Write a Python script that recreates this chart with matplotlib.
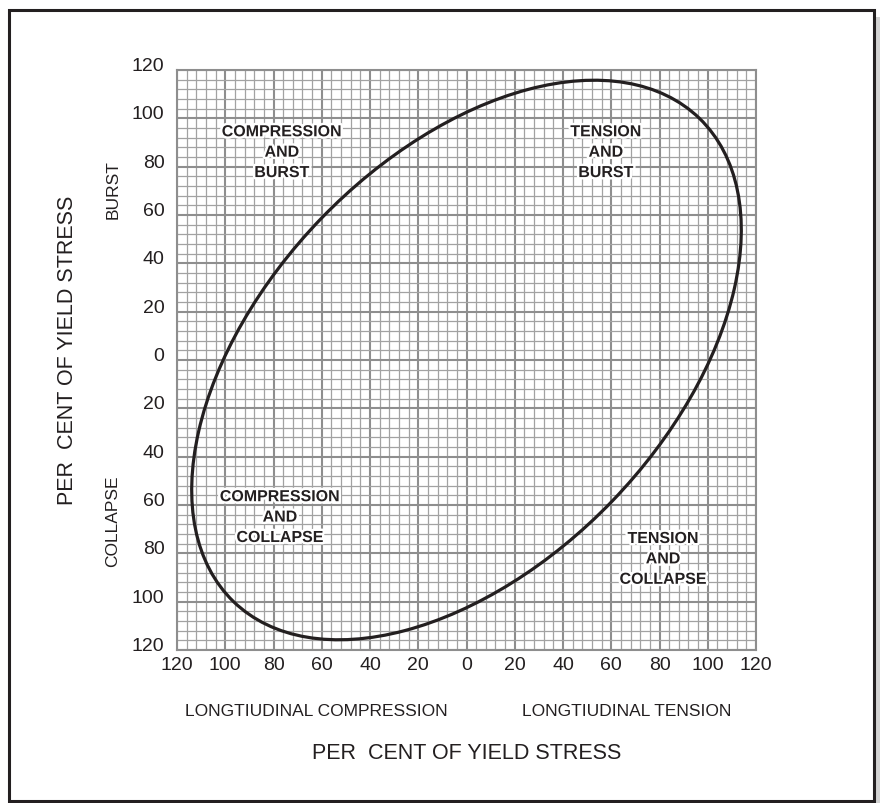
#! /usr/bin/env python3
# -*- coding:utf-8 -*-

import matplotlib
matplotlib.use("Agg")
import matplotlib.pyplot as plt
import matplotlib.patches as patches
import matplotlib.patheffects as pe
import numpy as np

# tick positions (signed) and the labels shown on them (absolute values)
xticks = [-120, -100, -80, -60, -40, -20, 0, 20, 40, 60, 80, 100, 120]
xticklabels = ["120", "100", "80", "60", "40", "20", "0", "20", "40", "60", "80", "100", "120"]
yticks = [-120, -100, -80, -60, -40, -20, 0, 20, 40, 60, 80, 100, 120]
yticklabels = ["120", "100", "80", "60", "40", "20", "0", "20", "40", "60", "80", "100", "120"]
minor_step = 4

# ellipse of plasticity, in per cent of yield stress
ellipse_center = (0.0, 0.0)
ellipse_major = 278.0   # full length along the tilted long axis
ellipse_minor = 168.0   # full length across it
ellipse_angle = 46.0

# quadrant names
regions = ["COMPRESSION\nAND\nBURST", "TENSION\nAND\nBURST",
           "COMPRESSION\nAND\nCOLLAPSE", "TENSION\nAND\nCOLLAPSE"]

ink = "#231f20"
plt.rcParams['font.family'] = ['Liberation Sans', 'DejaVu Sans']

fig = plt.figure(figsize=(8.8, 8.04), dpi=100)
ax = fig.add_axes([177 / 880, 1 - 651 / 804, 579 / 880, 580 / 804])

ax.set_xlim(-120, 120)
ax.set_ylim(-120, 120)
ax.set_xticks(xticks)
ax.set_xticklabels(xticklabels)
ax.set_yticks(yticks)
ax.set_yticklabels(yticklabels)
ax.set_xticks(np.arange(-120, 121, minor_step), minor=True)
ax.set_yticks(np.arange(-120, 121, minor_step), minor=True)
ax.tick_params(which='both', length=0, labelsize=14, labelcolor=ink)
ax.tick_params(axis='x', pad=4)
ax.tick_params(axis='y', pad=9)
plt.setp(ax.get_yticklabels(), va='baseline')

ax.grid(which='minor', color='#a2a2a2', lw=0.9)
ax.grid(which='major', color='#8e8e8e', lw=1.5)
ax.set_axisbelow(True)
for s in ax.spines.values():
    s.set_color('#8e8e8e')
    s.set_linewidth(1.5)

ell = patches.Ellipse(ellipse_center, ellipse_major, ellipse_minor, angle=ellipse_angle,
                      fill=False, ec=ink, lw=2.3, zorder=3)
ax.add_patch(ell)

halo = [pe.withStroke(linewidth=3.5, foreground='white')]
region_xy = [(-76.5, 86.0), (57.8, 86.0), (-77.3, -65.0), (81.5, -82.3)]
for name, (rx, ry) in zip(regions, region_xy):
    ax.text(rx, ry, name, ha='center', va='center', fontsize=11.5, fontweight='bold',
            color=ink, linespacing=1.45, path_effects=halo, zorder=4)

# axis titles
fig.text(467 / 880, 1 - 754 / 804, "PER  CENT OF YIELD STRESS", ha='center', va='center',
         fontsize=15.5, color=ink)
fig.text(68 / 880, 1 - 350 / 804, "PER  CENT OF YIELD STRESS", ha='center', va='center',
         fontsize=15.5, color=ink, rotation=90)
fig.text(316 / 880, 1 - 711 / 804, "LONGTIUDINAL COMPRESSION", ha='center', va='center',
         fontsize=12.5, color=ink)
fig.text(627 / 880, 1 - 711 / 804, "LONGTIUDINAL TENSION", ha='center', va='center',
         fontsize=12.5, color=ink)
fig.text(113 / 880, 1 - 190 / 804, "BURST", ha='center', va='center',
         fontsize=12.5, color=ink, rotation=90)
fig.text(113 / 880, 1 - 521 / 804, "COLLAPSE", ha='center', va='center',
         fontsize=12.5, color=ink, rotation=90)

# page frame with a soft shadow on the right
fig.patches.append(patches.Rectangle((876 / 880, 0), 4 / 880, 1 - 18 / 804,
                                     transform=fig.transFigure, fc='#d2d2d2', ec='none'))
fig.patches.append(patches.Rectangle((9 / 880, 2 / 804), 865 / 880, 791 / 804,
                                     transform=fig.transFigure, fill=False, ec=ink, lw=2.2))

fig.savefig("out.png", dpi=100)
